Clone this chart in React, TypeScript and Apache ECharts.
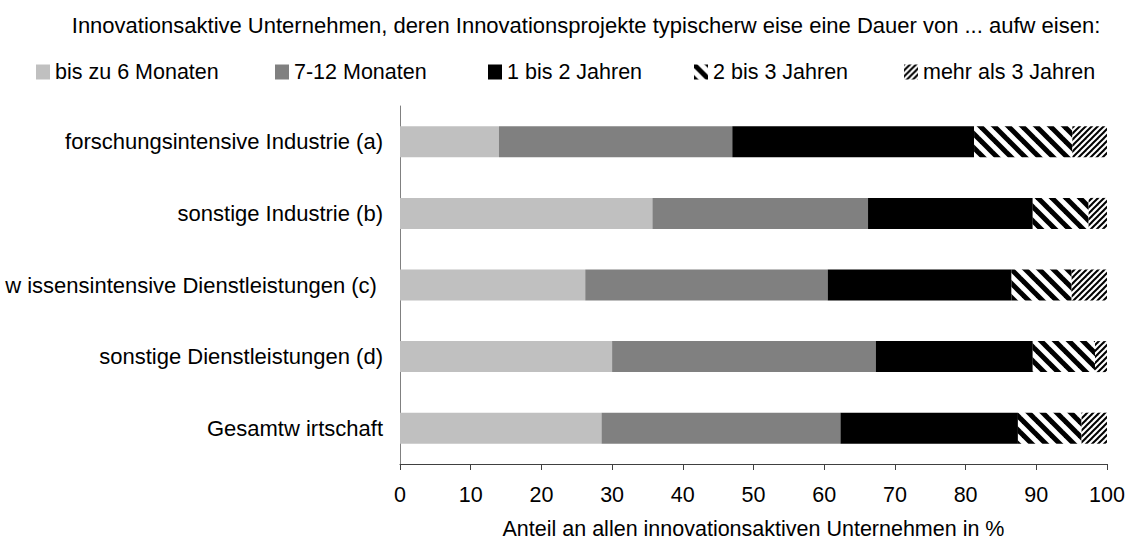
import React, { useEffect, useRef } from 'react';
import * as echarts from 'echarts';

const categories = [
  'forschungsintensive Industrie (a)',
  'sonstige Industrie (b)',
  'w issensintensive Dienstleistungen (c) ',
  'sonstige Dienstleistungen (d)',
  'Gesamtw irtschaft',
];
const seriesNames = ['bis zu 6 Monaten', '7-12 Monaten', '1 bis 2 Jahren', '2 bis 3 Jahren', 'mehr als 3 Jahren'];
const upTo6Months = [14.0, 35.7, 26.2, 30.0, 28.5];
const months7to12 = [33.0, 30.5, 34.3, 37.3, 33.8];
const years1to2 = [34.2, 23.3, 26.0, 22.2, 25.1];
const years2to3 = [13.9, 7.9, 8.5, 8.8, 9.0];
const over3Years = [4.9, 2.6, 5.0, 1.7, 3.6];
const xMin = 0;
const xMax = 100;
const xInterval = 10;
const chartTitle =
  'Innovationsaktive Unternehmen, deren Innovationsprojekte typischerw eise eine Dauer von ... aufw eisen:';
const xAxisTitle = 'Anteil an allen innovationsaktiven Unternehmen in %';

const FONT = 'Liberation Sans, Arial, sans-serif';

function makeStripes(period: number, width: number, dir: 'back' | 'fwd') {
  const c = document.createElement('canvas');
  c.width = period;
  c.height = period;
  const ctx = c.getContext('2d')!;
  ctx.fillStyle = '#ffffff';
  ctx.fillRect(0, 0, period, period);
  ctx.strokeStyle = '#000000';
  ctx.lineWidth = width;
  ctx.lineCap = 'butt';
  for (let k = -2; k <= 2; k++) {
    ctx.beginPath();
    if (dir === 'back') {
      ctx.moveTo(k * period - period, -period);
      ctx.lineTo(k * period + 2 * period, 2 * period);
    } else {
      ctx.moveTo(k * period - period, 2 * period);
      ctx.lineTo(k * period + 2 * period, -period);
    }
    ctx.stroke();
  }
  return c;
}

export default function App() {
  const ref = useRef<HTMLDivElement>(null);
  useEffect(() => {
    document.body.style.margin = '0';
    if (!ref.current) return;
    const chart = echarts.init(ref.current, undefined, { renderer: 'svg' });
    const back = makeStripes(14, 5, 'back');
    const fwd = makeStripes(6, 2, 'fwd');
    const colors: any[] = [
      '#C0C0C0',
      '#808080',
      '#000000',
      { image: back, repeat: 'repeat' },
      { image: fwd, repeat: 'repeat' },
    ];
    const values = [upTo6Months, months7to12, years1to2, years2to3, over3Years];
    const legendLefts = [36, 275, 488, 694, 904];
    chart.setOption({
      animation: false,
      title: {
        text: chartTitle,
        left: 586,
        top: 14,
        padding: 0,
        textAlign: 'center',
        textStyle: { fontFamily: FONT, fontSize: 22, fontWeight: 'normal', color: '#000' },
      },
      legend: seriesNames.map((n, i) => ({
        data: [n],
        left: legendLefts[i],
        top: 61,
        padding: 0,
        itemWidth: 14,
        itemHeight: 15,
        icon: 'rect',
        selectedMode: false,
        textStyle: { fontFamily: FONT, fontSize: 21.5, color: '#000' },
      })),
      grid: { left: 400, right: 21, top: 106, bottom: 74, containLabel: false },
      xAxis: {
        type: 'value',
        min: xMin,
        max: xMax,
        interval: xInterval,
        name: xAxisTitle,
        nameLocation: 'middle',
        nameGap: 54,
        nameTextStyle: { fontFamily: FONT, fontSize: 21.5, color: '#000' },
        axisLine: { show: true, lineStyle: { color: '#404040', width: 1 } },
        axisTick: { show: true, length: 6, lineStyle: { color: '#404040' } },
        axisLabel: { margin: 20, fontFamily: FONT, fontSize: 21.5, color: '#000' },
        splitLine: { show: false },
      },
      yAxis: {
        type: 'category',
        inverse: true,
        data: categories,
        axisLine: { show: true, lineStyle: { color: '#808080', width: 1 } },
        axisTick: { show: false },
        axisLabel: { margin: 17, fontFamily: FONT, fontSize: 22, color: '#000' },
      },
      series: seriesNames.map((n, i) => ({
        name: n,
        type: 'bar',
        stack: 'total',
        barWidth: 31,
        data: values[i],
        itemStyle: { color: colors[i] },
        emphasis: { disabled: true },
      })),
    });
    return () => chart.dispose();
  }, []);
  return <div ref={ref} style={{ width: 1128, height: 545 }} />;
}
